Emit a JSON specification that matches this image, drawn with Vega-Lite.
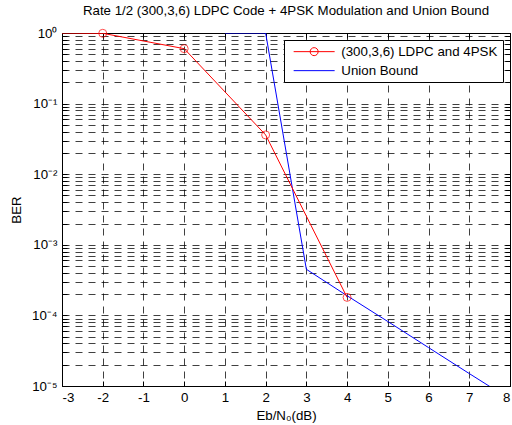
{
  "$schema": "https://vega.github.io/schema/vega-lite/v6.json",
  "width": 448,
  "height": 353,
  "autosize": {"type": "none"},
  "padding": {"left": 62, "top": 33, "right": 2, "bottom": 39},
  "background": "white",
  "title": {
    "text": "Rate 1/2 (300,3,6) LDPC Code + 4PSK Modulation and Union Bound",
    "fontSize": 13.3,
    "font": "Liberation Sans",
    "fontWeight": "normal",
    "color": "black",
    "offset": 9
  },
  "config": {
    "view": {"stroke": null},
    "font": "Liberation Sans",
    "axis": {
      "labelFont": "Liberation Sans",
      "titleFont": "Liberation Sans",
      "labelFontSize": 13.3,
      "titleFontSize": 13.3,
      "titleFontWeight": "normal",
      "labelColor": "black",
      "titleColor": "black",
      "domainColor": "black",
      "domainWidth": 1,
      "tickColor": "black",
      "tickSize": -5,
      "gridColor": "#000000",
      "gridOpacity": 0.75,
      "gridDash": [7, 6],
      "gridWidth": 1
    }
  },
  "datasets": {
    "ldpc": [
      {"ebn0": -3, "ber": 1, "series": "(300,3,6) LDPC and 4PSK"},
      {"ebn0": -2, "ber": 0.99, "series": "(300,3,6) LDPC and 4PSK"},
      {"ebn0": 0, "ber": 0.6, "series": "(300,3,6) LDPC and 4PSK"},
      {"ebn0": 2, "ber": 0.036, "series": "(300,3,6) LDPC and 4PSK"},
      {"ebn0": 4, "ber": 0.00018, "series": "(300,3,6) LDPC and 4PSK"}
    ],
    "union": [
      {"ebn0": 1, "ber": 1, "series": "Union Bound"},
      {"ebn0": 2, "ber": 1, "series": "Union Bound"},
      {"ebn0": 3, "ber": 0.00045, "series": "Union Bound"},
      {"ebn0": 4, "ber": 0.00019, "series": "Union Bound"},
      {"ebn0": 5, "ber": 0.000082, "series": "Union Bound"},
      {"ebn0": 6, "ber": 0.000035, "series": "Union Bound"},
      {"ebn0": 7, "ber": 0.000015, "series": "Union Bound"},
      {"ebn0": 8, "ber": 0.0000065, "series": "Union Bound"}
    ]
  },
  "layer": [
    {
      "data": {"name": "union"},
      "mark": {"type": "line", "clip": true, "strokeWidth": 1},
      "encoding": {
        "x": {
          "field": "ebn0", "type": "quantitative",
          "scale": {"domain": [-3, 8], "nice": false},
          "axis": {
            "orient": "bottom",
            "values": [-3, -2, -1, 0, 1, 2, 3, 4, 5, 6, 7, 8],
            "labelExpr": "'' + datum.value",
            "grid": true,
            "labelPadding": 9,
            "title": "Eb/N₀(dB)",
            "titlePadding": 5
          }
        },
        "y": {
          "field": "ber", "type": "quantitative",
          "scale": {"type": "log", "domain": [0.00001, 1], "nice": false},
          "axis": {
            "orient": "left",
            "values": [0.00001, 0.00002, 0.00003, 0.00004, 0.00005, 0.00006, 0.00007, 0.00008, 0.00009,
                       0.0001, 0.0002, 0.0003, 0.0004, 0.0005, 0.0006, 0.0007, 0.0008, 0.0009,
                       0.001, 0.002, 0.003, 0.004, 0.005, 0.006, 0.007, 0.008, 0.009,
                       0.01, 0.02, 0.03, 0.04, 0.05, 0.06, 0.07, 0.08, 0.09,
                       0.1, 0.2, 0.3, 0.4, 0.5, 0.6, 0.7, 0.8, 0.9, 1],
            "labelExpr": "['10⁰','10⁻¹','10⁻²','10⁻³','10⁻⁴','10⁻⁵'][indexof([1,0.1,0.01,0.001,0.0001,0.00001], datum.value)] || ''",
            "labelOverlap": false,
            "grid": true,
            "labelPadding": 10,
            "title": "BER",
            "titlePadding": 8
          }
        },
        "color": {
          "field": "series", "type": "nominal",
          "scale": {"domain": ["(300,3,6) LDPC and 4PSK", "Union Bound"], "range": ["#ff0000", "#0000ff"]},
          "legend": {
            "orient": "none",
            "legendX": 222,
            "legendY": 7,
            "title": null,
            "fillColor": "white",
            "strokeColor": "black",
            "padding": 5,
            "rowPadding": 5,
            "symbolSize": 100,
            "symbolStrokeWidth": 1,
            "labelOffset": 39,
            "labelFont": "Liberation Sans",
            "labelFontSize": 13.3,
            "labelColor": "black",
            "labelLimit": 300,
            "encode": {
              "symbols": {
                "update": {
                  "shape": {"signal": "datum.value === 'Union Bound' ? 'M-0.4,0L7.8,0' : 'M-0.4,0L7.8,0M2.9,0A0.8,0.8 0 1,0 4.5,0A0.8,0.8 0 1,0 2.9,0'"},
                  "fill": {"value": "transparent"},
                  "stroke": {"scale": "color", "field": "value"},
                  "strokeWidth": {"value": 1}
                }
              }
            }
          }
        }
      }
    },
    {
      "data": {"name": "ldpc"},
      "mark": {"type": "line", "clip": true, "strokeWidth": 1},
      "encoding": {
        "x": {
          "field": "ebn0", "type": "quantitative",
          "axis": {
            "orient": "top",
            "values": [-3, -2, -1, 0, 1, 2, 3, 4, 5, 6, 7, 8],
            "labels": false,
            "grid": false,
            "title": null
          }
        },
        "y": {
          "field": "ber", "type": "quantitative",
          "axis": {
            "orient": "right",
            "values": [0.00001, 0.00002, 0.00003, 0.00004, 0.00005, 0.00006, 0.00007, 0.00008, 0.00009,
                       0.0001, 0.0002, 0.0003, 0.0004, 0.0005, 0.0006, 0.0007, 0.0008, 0.0009,
                       0.001, 0.002, 0.003, 0.004, 0.005, 0.006, 0.007, 0.008, 0.009,
                       0.01, 0.02, 0.03, 0.04, 0.05, 0.06, 0.07, 0.08, 0.09,
                       0.1, 0.2, 0.3, 0.4, 0.5, 0.6, 0.7, 0.8, 0.9, 1],
            "labels": false,
            "grid": false,
            "title": null
          }
        },
        "color": {"field": "series", "type": "nominal"}
      }
    },
    {
      "data": {"name": "ldpc"},
      "transform": [{"filter": "datum.ebn0 >= -2"}],
      "mark": {"type": "point", "shape": "circle", "filled": false, "size": 64, "strokeWidth": 1},
      "encoding": {
        "x": {"field": "ebn0", "type": "quantitative", "axis": null},
        "y": {"field": "ber", "type": "quantitative", "axis": null},
        "color": {"field": "series", "type": "nominal"}
      }
    }
  ]
}
